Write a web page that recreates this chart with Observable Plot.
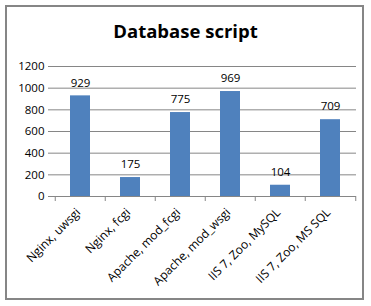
<!DOCTYPE html>
<html>
<head>
<meta charset="utf-8">
<script src="https://cdn.jsdelivr.net/npm/d3@7"></script>
<script src="https://cdn.jsdelivr.net/npm/@observablehq/plot@0.6"></script>
<style>
  html, body { margin: 0; padding: 0; background: #fff; }
  #wrap { position: relative; width: 371px; height: 306px; overflow: hidden; }
  #frame { position: absolute; left: 5px; top: 5px; width: 359px; height: 295px; box-sizing: border-box; border: 2px solid #868686; }
  #title { position: absolute; left: 0; width: 371px; top: 22px; text-align: center; font: bold 18.5px "Open Sans", sans-serif; color: #000; line-height: 1; }
  #chart { position: absolute; left: 0; top: 0; }
</style>
</head>
<body>
<div id="wrap">
  <div id="frame"></div>
  <div id="chart"></div>
  <div id="title">Database script</div>
</div>
<script>
const titleText = "Database script";
const categories = ["Nginx, uwsgi", "Nginx, fcgi", "Apache, mod_fcgi", "Apache, mod_wsgi", "IIS 7, Zoo, MySQL", "IIS 7, Zoo, MS SQL"];
const values = [929, 175, 775, 969, 104, 709];
const yTicks = [0, 200, 400, 600, 800, 1000, 1200];

const data = categories.map((c, i) => ({category: c, value: values[i]}));

const width = 371, height = 306;
const marginLeft = 53, marginRight = 15, marginTop = 66, marginBottom = 110;
const step = (width - marginLeft - marginRight) / categories.length;
const grey = "#868686";
const font = "Open Sans, sans-serif";

const plot = Plot.plot({
  width, height, marginLeft, marginRight, marginTop, marginBottom,
  style: {fontFamily: font, fontSize: "11.5px", color: "#000", background: "transparent", overflow: "visible"},
  x: {domain: categories, paddingInner: 0.6, paddingOuter: 0.3, label: null},
  y: {domain: [0, 1200], label: null},
  marks: [
    Plot.ruleY(yTicks.filter(t => t > 0), {stroke: grey, strokeWidth: 1}),
    Plot.barY(data, {x: "category", y: "value", fill: "#4F81BD"}),
    Plot.text(data, {x: "category", y: "value", text: d => String(d.value), dy: -13, fill: "#000", fontSize: 11.5}),
    Plot.axisY({ticks: yTicks, tickSize: 5, tickPadding: 4, tickFormat: d => String(d), stroke: grey, fill: "#000", label: null, fontSize: 11.5}),
    Plot.ruleX([0], {frameAnchor: "left", stroke: grey}),
    Plot.ruleY([0], {stroke: grey}),
    Plot.axisX({tickSize: 5, dx: -step / 2, tickFormat: () => "", stroke: grey, label: null}),
    Plot.axisX({ticks: [categories[categories.length - 1]], tickSize: 5, dx: step / 2, tickFormat: () => "", stroke: grey, label: null}),
    Plot.axisX({tickSize: 0, tickRotate: -45, tickPadding: 14, dx: -2, fill: "#000", label: null, fontSize: 12})
  ]
});
document.getElementById("chart").appendChild(plot);
</script>
</body>
</html>
